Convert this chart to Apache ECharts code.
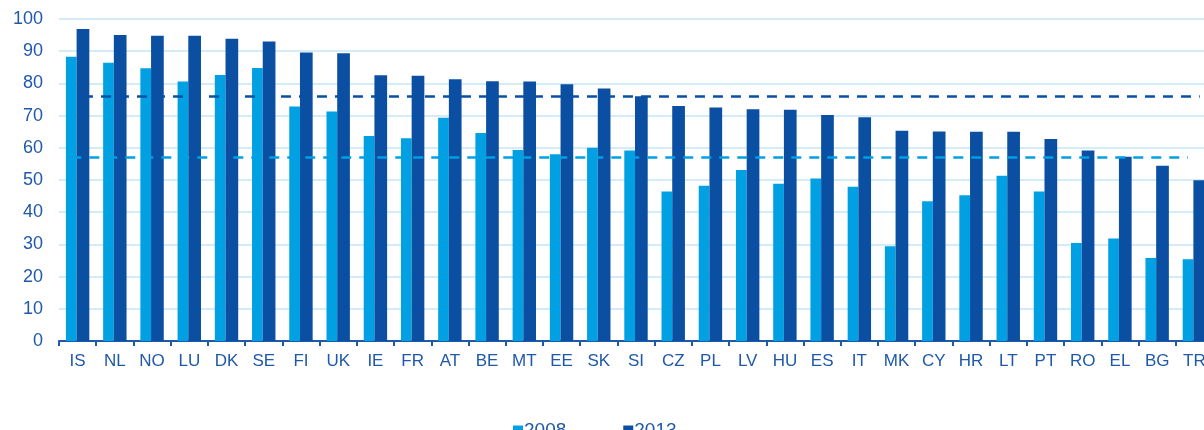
<!DOCTYPE html>
<html>
<head>
<meta charset="utf-8">
<script src="https://cdn.jsdelivr.net/npm/echarts@6/dist/echarts.min.js"></script>
<style>
  html, body { margin: 0; padding: 0; overflow: hidden; background: #fff; }
  #chart { width: 1214px; height: 430px; }
</style>
</head>
<body>
<div id="chart"></div>
<script>
// country codes, sorted by 2013 value
const countries = ['IS', 'NL', 'NO', 'LU', 'DK', 'SE', 'FI', 'UK', 'IE', 'FR', 'AT', 'BE', 'MT', 'EE', 'SK', 'SI',
  'CZ', 'PL', 'LV', 'HU', 'ES', 'IT', 'MK', 'CY', 'HR', 'LT', 'PT', 'RO', 'EL', 'BG', 'TR'];
const values2008 = [88.3, 86.4, 84.7, 80.6, 82.6, 84.8, 72.8, 71.3, 63.7, 63.0, 69.3, 64.6, 59.3, 58.0, 60.0, 59.2,
  46.4, 48.2, 53.1, 48.8, 50.5, 47.9, 29.4, 43.4, 45.3, 51.3, 46.4, 30.4, 31.8, 25.8, 25.4];
const values2013 = [96.9, 95.0, 94.8, 94.8, 93.9, 93.0, 89.6, 89.4, 82.5, 82.4, 81.3, 80.7, 80.6, 79.7, 78.4, 76.0,
  73.0, 72.5, 72.0, 71.8, 70.2, 69.5, 65.3, 65.1, 65.0, 65.0, 62.7, 59.2, 57.2, 54.4, 49.9];
// averages (dashed lines)
const avg2008 = 57;
const avg2013 = 76;
const yTicks = { min: 0, max: 100, interval: 10 };

const light = '#00a0e3';
const dark = '#0b4fa3';
const textBlue = '#1f59aa';

const chart = echarts.init(document.getElementById('chart'));

function avgLine(value, color) {
  return {
    silent: true,
    symbol: 'none',
    label: { show: false },
    lineStyle: { color: color, type: [10, 8], width: 2.5 },
    data: [[
      { xAxis: countries[0], yAxis: value },
      { xAxis: countries[countries.length - 1], yAxis: value }
    ]]
  };
}

chart.setOption({
  animation: false,
  textStyle: { fontFamily: 'Liberation Sans, Arial, sans-serif' },
  grid: { left: 59, right: 1, top: 19, bottom: 89 },
  legend: {
    left: 508,
    top: 416,
    itemWidth: 10,
    itemHeight: 10,
    itemGap: 57,
    icon: 'rect',
    textStyle: { color: textBlue, fontSize: 19, padding: [0, 0, 0, -4] },
    data: ['2008', '2013']
  },
  xAxis: {
    type: 'category',
    data: countries,
    axisLine: { lineStyle: { color: textBlue, width: 2 } },
    axisTick: { show: true, length: 5, lineStyle: { color: textBlue, width: 2 } },
    axisLabel: { color: textBlue, fontSize: 17, margin: 12, interval: 0 }
  },
  yAxis: {
    type: 'value',
    min: yTicks.min,
    max: yTicks.max,
    interval: yTicks.interval,
    axisLine: { show: false },
    axisTick: { show: false },
    axisLabel: { color: textBlue, fontSize: 18, margin: 16 },
    splitLine: { lineStyle: { color: '#c6e6f6', width: 1.5 } }
  },
  series: [
    {
      name: '2008',
      type: 'bar',
      data: values2008,
      barWidth: 10.7,
      barGap: '0%',
      itemStyle: { color: light },
      markLine: avgLine(avg2008, light),
      z: 2
    },
    {
      name: '2013',
      type: 'bar',
      data: values2013,
      barWidth: 12.7,
      barGap: '0%',
      itemStyle: { color: dark },
      markLine: avgLine(avg2013, dark),
      z: 2
    }
  ]
});
</script>
</body>
</html>
